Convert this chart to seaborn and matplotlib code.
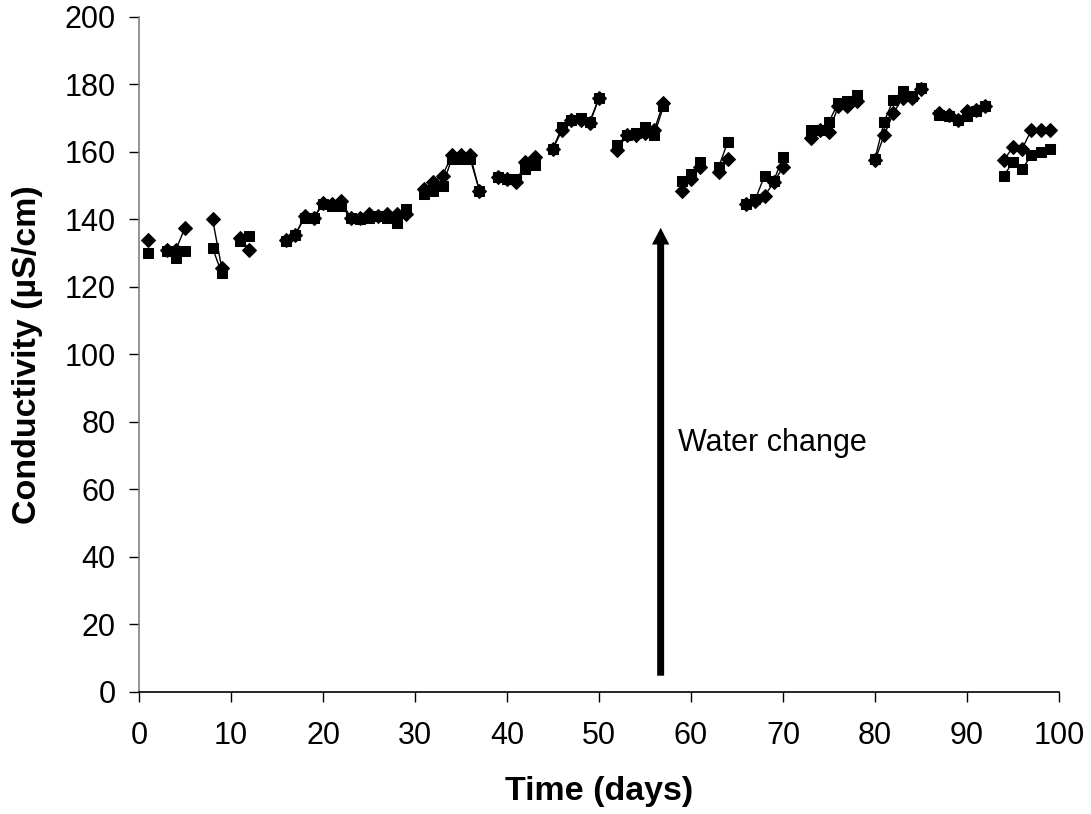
import numpy as np
import pandas as pd
import matplotlib
matplotlib.use("Agg")
import matplotlib.pyplot as plt
import seaborn as sns

nan = np.nan
days = list(range(1, 100))

diamond = [134, nan, 131, 131, 137.5, nan, nan, 140, 125.5, nan,
           134.5, 131, nan, nan, nan, 134, 135.5, 141, 140.5, 145,
           144.5, 145.5, 140.5, 140.5, 141.5, 141, 141.5, 141.5, 141.5, nan,
           149, 151, 153, 159, 159, 159, 148.5, nan, 152.5, 152,
           151, 157, 158.5, nan, 161, 166.5, 169.5, 169.5, 168.5, 176,
           nan, 160.5, 165, 165, 165.5, 166.5, 174.5, nan, 148.5, 152,
           155.5, nan, 154, 158, nan, 144.5, 145.5, 147, 151, 155.5,
           nan, nan, 164, 166.5, 166, 173.5, 173.5, 175, nan, 157.5,
           165, 171.5, 176, 176, 178.5, nan, 171.5, 171, 169.5, 172,
           172.5, 173.5, nan, 157.5, 161.5, 161, 166.5, 166.5, 166.5]

square = [130, nan, 130.5, 128.5, 130.5, nan, nan, 131.5, 124, nan,
          133.5, 135, nan, nan, nan, 133.5, 135.5, 140.5, 140.5, 144.5,
          144, 144, 140.5, 140, 140.5, 141, 140.5, 139, 143, nan,
          147.5, 148.5, 150, 158, 158, 158, 148.5, nan, 152.5, 152,
          152, 155, 156, nan, 161, 167.5, 169.5, 170, 169, 176,
          nan, 162, 165, 165.5, 167.5, 165, 173.5, nan, 151.5, 153.5,
          157, nan, 155.5, 163, nan, 144.5, 146, 153, 151.5, 158.5,
          nan, nan, 166.5, 166.5, 169, 174.5, 175, 177, nan, 158,
          169, 175.5, 178, 176.5, 179, nan, 171, 170.5, 169.5, 170.5,
          172, 173.5, nan, 153, 157, 155, 159, 160, 161]

x_ticks = [0, 10, 20, 30, 40, 50, 60, 70, 80, 90, 100]
y_ticks = [0, 20, 40, 60, 80, 100, 120, 140, 160, 180, 200]
annotation_text = "Water change"
arrow_day = 56.7
arrow_from, arrow_to = 4.8, 137.5


def to_frame(values, name):
    df = pd.DataFrame({"day": days, "value": values})
    df["segment"] = df["value"].isna().cumsum()
    df = df.dropna()
    df["series"] = name
    return df


sns.set_theme(style="white")
plt.rcParams["font.family"] = ["Liberation Sans", "DejaVu Sans"]
plt.rcParams["text.color"] = "black"
plt.rcParams["axes.labelcolor"] = "black"
plt.rcParams["xtick.color"] = "black"
plt.rcParams["ytick.color"] = "black"

fig = plt.figure(figsize=(10.91, 8.14), dpi=100)
ax = fig.add_axes([0.1274, 0.150, 0.8433, 0.8292])

for vals, name, mk, ms in [(diamond, "A", "D", 7), (square, "B", "s", 6.5)]:
    df = to_frame(vals, name)
    sns.lineplot(data=df, x="day", y="value", units="segment", estimator=None,
                 color="black", linewidth=1, marker=mk, markersize=ms,
                 markeredgecolor="black", markerfacecolor="black",
                 ax=ax, legend=False)

ax.annotate("", xy=(arrow_day, arrow_to), xytext=(arrow_day, arrow_from),
            arrowprops=dict(width=5, headwidth=12.5, headlength=12,
                            facecolor="black", edgecolor="black", lw=0,
                            shrink=0))
ax.text(58.6, 73.8, annotation_text, fontsize=22, va="center", ha="left")

ax.set_xlim(0, 100)
ax.set_ylim(0, 200)
ax.set_xticks(x_ticks)
ax.set_yticks(y_ticks)
ax.tick_params(axis="both", which="major", labelsize=22, direction="out",
               length=7, width=1, color="black", bottom=True, left=True)
ax.tick_params(axis="x", pad=14)
ax.tick_params(axis="y", pad=10)
ax.set_xlabel("Time (days)", fontsize=24.5, fontweight="bold")
ax.set_ylabel("Conductivity (µS/cm)", fontsize=24.5, fontweight="bold")
ax.xaxis.label.set_va("center")
ax.yaxis.label.set_va("center")
ax.xaxis.set_label_coords(0.5, -0.147)
ax.yaxis.set_label_coords(-0.1207, 0.5)

for s in ["top", "right"]:
    ax.spines[s].set_visible(False)
ax.spines["left"].set_color("#808080")
ax.spines["bottom"].set_color("black")
for s in ["left", "bottom"]:
    ax.spines[s].set_linewidth(1.2)

fig.savefig("out.png", dpi=100, facecolor="white")
